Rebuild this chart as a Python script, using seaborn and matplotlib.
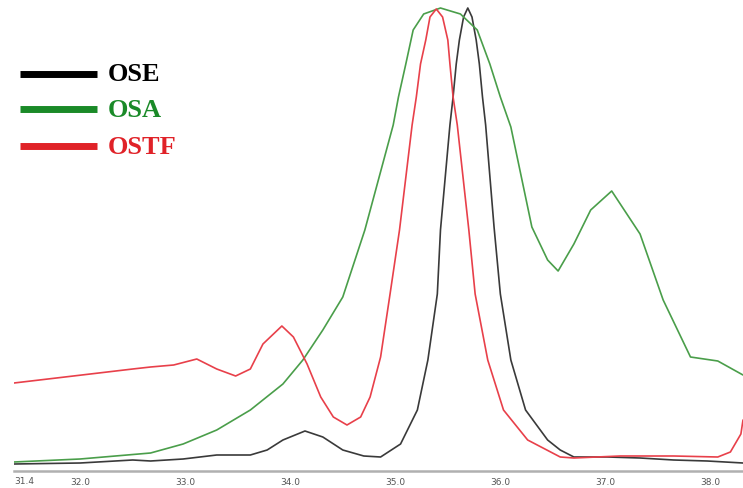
from matplotlib import pyplot as plt
import seaborn as sns
import pandas as pd

# retention (min) / relative intensity
ose_x = [31.37, 32.00, 32.50, 32.67, 32.98, 33.30, 33.62, 33.78, 33.93, 34.14,
         34.31, 34.50, 34.70, 34.86, 35.05, 35.21, 35.31, 35.40, 35.43, 35.52,
         35.55, 35.58, 35.61, 35.65, 35.69, 35.73, 35.77, 35.80, 35.83, 35.86,
         35.94, 36.00, 36.10, 36.24, 36.45, 36.57, 36.70, 37.02, 37.33, 37.65,
         37.97, 38.31]
ose_y = [7, 8, 11, 10, 12, 16, 16, 21, 31, 40,
         34, 21, 15, 14, 27, 61, 111, 177, 241, 346,
         374, 407, 431, 454, 463, 454, 431, 407, 374, 346,
         244, 177, 111, 61, 31, 21, 14, 14, 13, 11,
         10, 8]

osa_x = [31.37, 32.00, 32.67, 32.98, 33.30, 33.62, 33.93, 34.12, 34.31, 34.50,
         34.71, 34.98, 35.03, 35.10, 35.17, 35.27, 35.43, 35.62, 35.78, 35.90,
         36.00, 36.10, 36.30, 36.45, 36.55, 36.70, 36.86, 37.06, 37.33, 37.55,
         37.81, 38.07, 38.31]
osa_y = [9, 12, 18, 27, 41, 61, 87, 111, 141, 174,
         241, 346, 374, 407, 441, 457, 463, 457, 441, 407,
         374, 344, 244, 211, 200, 227, 261, 280, 237, 171,
         114, 110, 96]

ostf_x = [31.37, 32.50, 32.67, 32.89, 33.11, 33.30, 33.48, 33.62, 33.74, 33.92,
          34.03, 34.16, 34.29, 34.41, 34.54, 34.67, 34.76, 34.86, 34.95, 35.04,
          35.16, 35.20, 35.24, 35.29, 35.33, 35.39, 35.45, 35.50, 35.52, 35.55,
          35.59, 35.70, 35.76, 35.88, 36.03, 36.26, 36.57, 36.70, 37.14, 37.65,
          38.07, 38.19, 38.29, 38.31]
ostf_y = [88, 102, 104, 106, 112, 102, 95, 102, 127, 145,
          134, 107, 74, 54, 46, 54, 74, 114, 177, 241,
          346, 374, 407, 431, 454, 462, 454, 431, 407, 374,
          346, 241, 177, 111, 61, 31, 14, 13, 15, 15,
          14, 19, 37, 51]

samples = ["OSE", "OSA", "OSTF"]
tick_vals = [32.0, 33.0, 34.0, 35.0, 36.0, 37.0, 38.0]

df = pd.concat([
    pd.DataFrame({"time": ose_x, "signal": ose_y, "sample": "OSE"}),
    pd.DataFrame({"time": osa_x, "signal": osa_y, "sample": "OSA"}),
    pd.DataFrame({"time": ostf_x, "signal": ostf_y, "sample": "OSTF"}),
])

line_colors = {"OSE": "#3a3a3a", "OSA": "#4a9e4a", "OSTF": "#e8404a"}
key_colors = {"OSE": "#000000", "OSA": "#1a8a28", "OSTF": "#e02228"}

sns.set_style("white")
fig = plt.figure(figsize=(7.43, 4.89), dpi=100)
ax = fig.add_axes([14 / 743, 17 / 489, 729 / 743, 472 / 489])

sns.lineplot(data=df, x="time", y="signal", hue="sample", palette=line_colors,
             estimator=None, sort=False, linewidth=1.2, legend=False, ax=ax)
for ln in ax.lines:
    ln.set_solid_joinstyle("round")

ax.set_xlim(31.37, 38.31)
ax.set_ylim(0, 472)
ax.set_yticks([])
ax.set_xticks(tick_vals)
ax.set_xticklabels([f"{v:.1f}" for v in tick_vals])
ax.set_xlabel("")
ax.set_ylabel("")
for s in ["top", "left", "right"]:
    ax.spines[s].set_visible(False)
ax.spines["bottom"].set_color("#b0b0b0")
ax.spines["bottom"].set_linewidth(1.8)
ax.tick_params(axis="x", direction="out", length=4, width=0.8, color="#888888",
               labelsize=6.5, labelcolor="#555555", pad=0.5)
ax.text(31.37, -0.011, "31.4", transform=ax.get_xaxis_transform(), ha="left",
        va="top", fontsize=6.5, color="#555555")

# hand-drawn key in the upper left
key_y = [0.842, 0.766, 0.688]
for name, yy in zip(samples, key_y):
    ax.plot([0.008, 0.114], [yy, yy], transform=ax.transAxes,
            color=key_colors[name], lw=5, solid_capstyle="butt")
    ax.text(0.128, yy, name, transform=ax.transAxes, ha="left", va="center",
            fontsize=19, fontweight="bold", family="Liberation Serif",
            color=key_colors[name])

fig.savefig("out.png", dpi=100)
